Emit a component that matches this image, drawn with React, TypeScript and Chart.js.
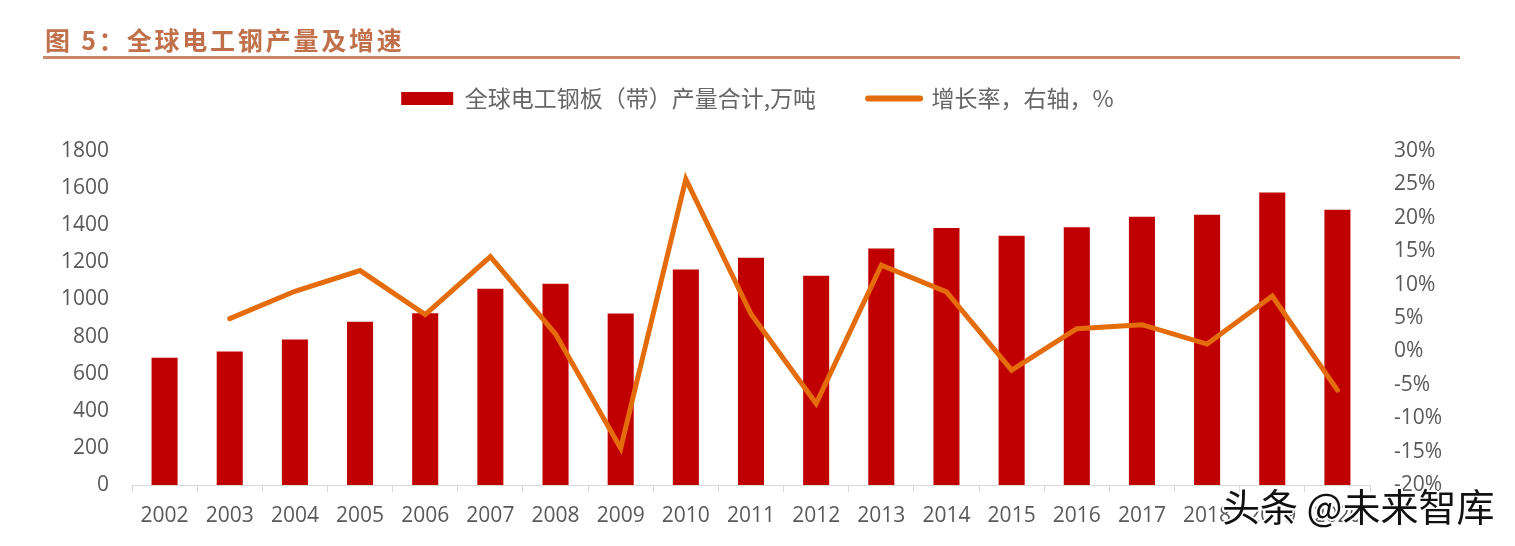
import React, { useEffect, useRef } from "react";
import { Chart, registerables } from "chart.js";

Chart.register(...registerables);

const years = ["2002", "2003", "2004", "2005", "2006", "2007", "2008", "2009", "2010", "2011", "2012", "2013", "2014", "2015", "2016", "2017", "2018", "2019", "2020"];
const production = [686, 720, 784, 880, 926, 1057, 1084, 924, 1162, 1225, 1128, 1274, 1385, 1343, 1389, 1445, 1457, 1576, 1483];
const growth = [null, 4.9, 9.0, 12.1, 5.5, 14.2, 2.6, -14.5, 25.8, 5.6, -7.8, 12.9, 8.9, -2.8, 3.4, 4.0, 1.1, 8.3, -5.8];
const barLabel = "全球电工钢板（带）产量合计,万吨";
const lineLabel = "增长率，右轴，%";
const titleText = "图 5：全球电工钢产量及增速";
const watermark = "头条 @未来智库";

const TICK_FONT = { family: "'Open Sans', 'Noto Sans', sans-serif", size: 21 };

export default function App() {
  const ref = useRef<HTMLCanvasElement>(null);

  useEffect(() => {
    if (!ref.current) return;
    const chart = new Chart(ref.current, {
      type: "bar",
      data: {
        labels: years,
        datasets: [
          {
            type: "bar",
            label: barLabel,
            data: production,
            backgroundColor: "#C00000",
            borderWidth: 0,
            barPercentage: 0.4,
            categoryPercentage: 1,
            yAxisID: "y",
            order: 1,
            pointStyle: "rect",
          } as any,
          {
            type: "line",
            label: lineLabel,
            data: growth,
            borderColor: "#E46C0A",
            backgroundColor: "#E46C0A",
            borderWidth: 5,
            borderCapStyle: "round",
            borderJoinStyle: "miter",
            pointRadius: 0,
            pointHoverRadius: 0,
            pointStyle: "line",
            pointBorderWidth: 6,
            pointBorderColor: "#E46C0A",
            tension: 0,
            yAxisID: "y1",
            order: 0,
          } as any,
        ],
      },
      options: {
        responsive: false,
        animation: false,
        layout: { padding: { top: 35, left: 0, right: 0, bottom: 0 } },
        plugins: {
          tooltip: { enabled: false },
          title: { display: false },
          subtitle: {
            display: true,
            text: "",
            weight: 500,
            font: { size: 1, lineHeight: 1 },
            padding: { top: 0, bottom: 30 },
          } as any,
          legend: {
            display: true,
            position: "top",
            labels: {
              usePointStyle: true,
              pointStyleWidth: 52,
              boxHeight: 13,
              padding: 52,
              color: "#666666",
              font: { family: "'Noto Sans CJK SC', sans-serif", size: 23 },
              generateLabels: (c: any) => {
                const items = (Chart.defaults as any).plugins.legend.labels.generateLabels(c);
                items.forEach((it: any) => {
                  if (it.datasetIndex === 0) {
                    it.pointStyle = "rect";
                    it.lineWidth = 0;
                  } else {
                    it.pointStyle = "line";
                    it.lineWidth = 6;
                    it.lineCap = "round";
                    it.strokeStyle = "#E46C0A";
                  }
                });
                items.sort((a: any, b: any) => a.datasetIndex - b.datasetIndex);
                return items;
              },
            },
          },
        },
        scales: {
          x: {
            offset: true,
            afterFit: (s: any) => {
              s.height = 61;
            },
            border: { display: true, color: "#D9D9D9", width: 1 },
            grid: {
              display: true,
              offset: true,
              drawOnChartArea: false,
              drawTicks: true,
              tickLength: 7,
              color: "#D9D9D9",
            },
            ticks: { color: "#595959", font: TICK_FONT, padding: 11, maxRotation: 0, autoSkip: false },
          },
          y: {
            position: "left",
            min: 0,
            max: 1800,
            afterFit: (s: any) => {
              s.width = 132;
            },
            border: { display: false },
            grid: { display: false, drawTicks: false },
            ticks: {
              stepSize: 200,
              color: "#595959",
              font: TICK_FONT,
              padding: 23,
              callback: (v: any) => String(v),
            },
          },
          y1: {
            position: "right",
            min: -20,
            max: 30,
            afterFit: (s: any) => {
              s.width = 145;
            },
            border: { display: false },
            grid: { display: false, drawTicks: false },
            ticks: {
              stepSize: 5,
              color: "#595959",
              font: TICK_FONT,
              padding: 24,
              callback: (v: any) => `${v}%`,
            },
          },
        },
      },
    });
    return () => chart.destroy();
  }, []);

  return (
    <div style={{ position: "fixed", left: 0, top: 0, width: 1515, height: 546, background: "#ffffff", overflow: "hidden" }}>
      <canvas ref={ref} width={1515} height={546} style={{ position: "absolute", left: 0, top: 0, width: 1515, height: 546 }} />
      <div
        style={{
          position: "absolute",
          left: 45,
          top: 24,
          fontFamily: "'Noto Sans CJK SC', sans-serif",
          fontWeight: 700,
          fontSize: 25,
          lineHeight: "30px",
          letterSpacing: 2.8,
          color: "#C0704A",
          whiteSpace: "nowrap",
        }}
      >
        {titleText}
      </div>
      <div style={{ position: "absolute", left: 43, top: 56, width: 1417, height: 3, background: "#C98668" }} />
      <div
        style={{
          position: "absolute",
          left: 1222,
          top: 482,
          fontFamily: "'Noto Sans CJK SC', sans-serif",
          fontSize: 38,
          lineHeight: "46px",
          color: "#111111",
          whiteSpace: "nowrap",
          textShadow: "1px 1px 0 #fff, -1px -1px 0 #fff, 1px -1px 0 #fff, -1px 1px 0 #fff, 2px 0 0 #fff, -2px 0 0 #fff, 0 2px 0 #fff, 0 -2px 0 #fff",
        }}
      >
        {watermark}
      </div>
    </div>
  );
}
